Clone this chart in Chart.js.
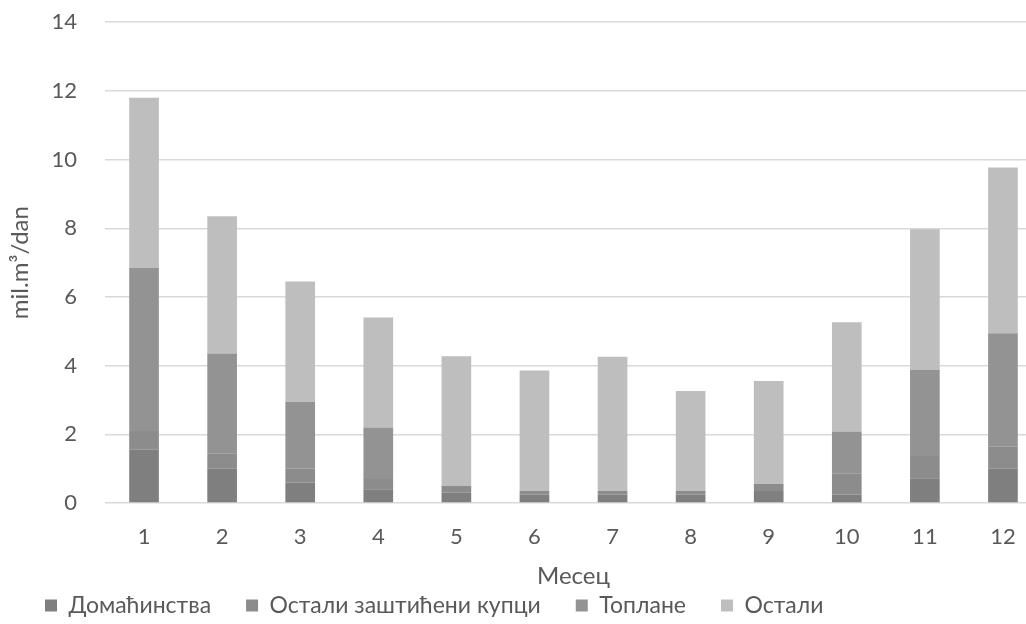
<!DOCTYPE html>
<html>
<head>
<meta charset="utf-8">
<script src="https://cdn.jsdelivr.net/npm/chart.js@4/dist/chart.umd.min.js"></script>
<style>
  html, body { margin: 0; padding: 0; background: #fff; overflow: hidden; }
  #wrap { width: 1042px; height: 624px; }
</style>
</head>
<body>
<div id="wrap"><canvas id="chart"></canvas></div>
<script>
const meseci = ['1', '2', '3', '4', '5', '6', '7', '8', '9', '10', '11', '12'];
const domacinstva = [1.55, 1.0, 0.6, 0.4, 0.3, 0.25, 0.25, 0.25, 0.35, 0.25, 0.72, 1.0];
const ostaliZasticeni = [0.55, 0.45, 0.4, 0.3, 0.2, 0.11, 0.11, 0.11, 0.2, 0.6, 0.65, 0.64];
const toplane = [4.75, 2.9, 1.95, 1.5, 0, 0, 0, 0, 0, 1.23, 2.5, 3.3];
const ostali = [4.95, 4.0, 3.5, 3.2, 3.77, 3.5, 3.9, 2.9, 3.0, 3.18, 4.1, 4.83];

const FONT = 'Lato, "Open Sans", sans-serif';
const TEXT = '#595959';

const ctx = document.getElementById('chart').getContext('2d');
new Chart(ctx, {
    type: 'bar',
    data: {
        labels: meseci,
        datasets: [
            { label: 'Домаћинства', data: domacinstva, backgroundColor: '#7f7f7f' },
            { label: 'Остали заштићени купци', data: ostaliZasticeni, backgroundColor: '#8c8c8c' },
            { label: 'Топлане', data: toplane, backgroundColor: '#939393' },
            { label: 'Остали', data: ostali, backgroundColor: '#bebebe' }
        ]
    },
    options: {
        responsive: true,
        maintainAspectRatio: false,
        animation: false,
        datasets: { bar: { categoryPercentage: 1, barPercentage: 0.38 } },
        layout: { padding: { top: 0, right: 0, left: 10, bottom: -3 } },
        scales: {
            x: {
                stacked: true,
                grid: { display: false },
                border: { display: false },
                ticks: { color: TEXT, font: { family: FONT, size: 22 }, padding: 13 },
                title: { display: true, text: 'Месец', color: TEXT, font: { family: FONT, size: 24 }, padding: { top: 0, bottom: -32 } },
                afterFit: s => { s.height = 56; }
            },
            y: {
                stacked: true,
                min: 0,
                max: 14,
                ticks: { stepSize: 2, color: TEXT, font: { family: FONT, size: 22 }, padding: 9 },
                grid: { color: '#d9d9d9', lineWidth: 1.5, drawTicks: true, tickLength: 19, tickColor: 'rgba(0,0,0,0)' },
                border: { display: false },
                title: { display: true, text: 'mil.m³/dan', color: TEXT, font: { family: FONT, size: 24 }, padding: { top: -4, bottom: 0 } },
                afterFit: s => { s.width = 95; }
            }
        },
        plugins: {
            tooltip: { enabled: false },
            legend: {
                position: 'bottom',
                align: 'start',
                labels: {
                    color: TEXT,
                    font: { family: FONT, size: 23 },
                    boxWidth: 12,
                    boxHeight: 12,
                    padding: 35
                }
            }
        }
    }
});
</script>
</body>
</html>
